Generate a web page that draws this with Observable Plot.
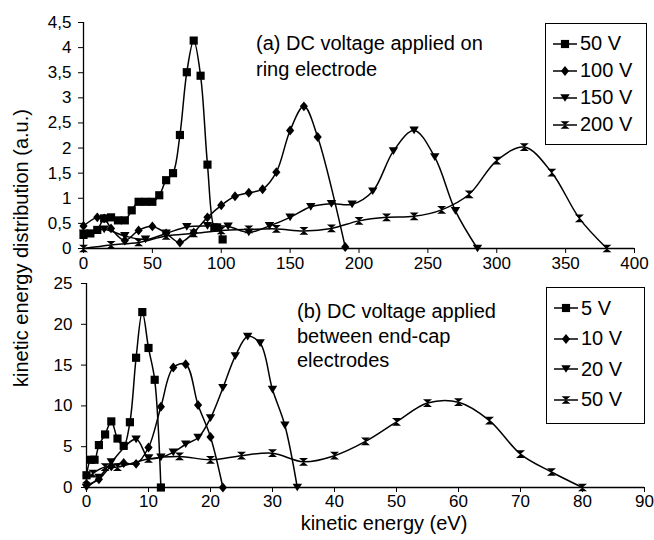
<!DOCTYPE html>
<html><head><meta charset="utf-8">
<script src="https://cdn.jsdelivr.net/npm/d3@7"></script>
<script src="https://cdn.jsdelivr.net/npm/@observablehq/plot@0.6"></script>
<style>
body{margin:0;background:#fff;}
#chart{position:relative;width:654px;height:540px;font-family:"Liberation Sans",Arial,sans-serif;color:#000;overflow:hidden;}
#chart svg.plot{position:absolute;left:0;}
.note{position:absolute;font-size:20px;white-space:nowrap;}
.legend{position:absolute;border:1px solid #000;background:#fff;box-sizing:border-box;font-size:20px;}
.legend .row{display:flex;align-items:center;white-space:nowrap;}
.ylabel{position:absolute;font-size:20px;white-space:nowrap;transform:translate(-50%,-50%) rotate(-90deg);}
.xlabel{position:absolute;font-size:20px;white-space:nowrap;transform:translateX(-50%);}
</style></head><body><div id="chart"></div>
<script>
// ---------- data (a): DC voltage applied on ring electrode ----------
const topNames = ["50 V", "100 V", "150 V", "200 V"];
const top50V = [[0,0.27],[5,0.3],[10,0.37],[15,0.6],[20,0.62],[25,0.56],[30,0.56],[35,0.76],[40,0.93],[45,0.93],[50,0.93],[55,1.06],[60,1.36],[65,1.5],[70,2.26],[75,3.51],[80,4.14],[85,3.44],[90,1.67],[95,0.42],[97,0.42],[101,0.18]];
const top100V = [[0,0.45],[10,0.62],[15,0.6],[20,0.4],[30,0.16],[40,0.36],[50,0.44],[60,0.3],[70,0.12],[80,0.32],[90,0.62],[100,0.86],[110,1.04],[120,1.11],[130,1.18],[140,1.52],[150,2.35],[160,2.83],[170,2.22],[190,0.03]];
const top150V = [[0,0.3],[15,0.38],[30,0.25],[45,0.18],[60,0.3],[75,0.43],[90,0.45],[105,0.44],[120,0.32],[135,0.45],[150,0.62],[165,0.83],[180,0.89],[195,0.88],[210,1.14],[225,1.94],[240,2.35],[255,1.82],[270,0.75],[286,0]];
const top200V = [[0,0],[20,0.07],[40,0.12],[60,0.25],[80,0.3],[100,0.36],[120,0.38],[140,0.39],[160,0.35],[180,0.4],[200,0.55],[220,0.62],[240,0.64],[260,0.77],[280,1.08],[300,1.75],[320,2.02],[340,1.51],[360,0.6],[380,0]];
const topXTicks = [0,50,100,150,200,250,300,350,400];
const topYTicks = [0,0.5,1,1.5,2,2.5,3,3.5,4,4.5];
const topYTickLabels = ["0","0,5","1","1,5","2","2,5","3","3,5","4","4,5"];
const topNote = ["(a) DC voltage applied on", "ring electrode"];

// ---------- data (b): DC voltage applied between end-cap electrodes ----------
const botNames = ["5 V", "10 V", "20 V", "50 V"];
const bot5V = [[0,1.5],[0.7,3.4],[1.3,3.4],[2,5.2],[3,6.5],[4,8.1],[5,6.0],[6,5.1],[7,8.0],[8,15.9],[9,21.5],[10,17.1],[11,13.2],[12,0]];
const bot10V = [[0,0.3],[2,1.0],[4,2.6],[6,3.0],[8,2.9],[10,4.9],[12,9.9],[14,14.7],[16,15.1],[18,10.1],[20,6.2],[22,0]];
const bot20V = [[0,0],[2,1.2],[4,3.1],[8,5.9],[10,3.6],[12,3.7],[14,4.3],[16,5.3],[18,6.1],[20,8.5],[22,12.2],[24,16.1],[26,18.5],[28,17.7],[30,12.0],[32,7.6],[34,0]];
const bot50V = [[0,1.0],[1,1.7],[3,2.5],[5,2.5],[10,3.5],[15,3.8],[20,3.4],[25,3.9],[30,4.2],[35,3.15],[40,3.9],[45,5.65],[50,8.05],[55,10.35],[60,10.45],[65,8.2],[70,4.1],[75,1.9],[80,0]];
const botXTicks = [0,10,20,30,40,50,60,70,80,90];
const botYTicks = [0,5,10,15,20,25];
const botNote = ["(b) DC voltage applied", "between end-cap", "electrodes"];

const yLabel = "kinetic energy distribution (a.u.)";
const xLabel = "kinetic energy (eV)";

// ---------- marker symbols ----------
const rad = s => Math.sqrt(s / Math.PI);
const symSquare = {draw(c, s){const h = rad(s)*0.95; c.rect(-h,-h,2*h,2*h);}};
const symDiamond = {draw(c, s){const r = rad(s), h = r*1.15, w = r*0.95; c.moveTo(0,-h); c.lineTo(w,0); c.lineTo(0,h); c.lineTo(-w,0); c.closePath();}};
const symTriDown = {draw(c, s){const r = rad(s), w = r*1.1, h = r*0.9; c.moveTo(-w,-h); c.lineTo(w,-h); c.lineTo(0,h); c.closePath();}};
const symHourglass = {draw(c, s){const r = rad(s), w = r*1.05, h = r*0.9; c.moveTo(-w,-h); c.lineTo(w,-h); c.lineTo(-w,h); c.lineTo(w,h); c.closePath();}};
const symbols = [symSquare, symDiamond, symTriDown, symHourglass];
const markerR = 4.3;

const font = '"Liberation Sans", Arial, sans-serif';

function seriesMarks(seriesList) {
  return seriesList.flatMap((pts, i) => [
    Plot.line(pts, {x: d => d[0], y: d => d[1], curve: "catmull-rom", stroke: "#000", strokeWidth: 1.5}),
    Plot.dot(pts, {x: d => d[0], y: d => d[1], symbol: symbols[i], r: markerR, fill: "#000", stroke: "none"})
  ]);
}

const chart = document.getElementById("chart");

const topPlot = Plot.plot({
  width: 654, height: 275,
  marginLeft: 83, marginRight: 20, marginTop: 22, marginBottom: 27,
  style: {fontFamily: font, fontSize: "17px", color: "#000", background: "transparent", overflow: "visible"},
  x: {domain: [0, 400], ticks: topXTicks, tickSize: 5, tickPadding: 3, label: null},
  y: {domain: [0, 4.5], ticks: topYTicks, tickSize: 5, tickPadding: 7, label: null,
      tickFormat: d => topYTickLabels[topYTicks.indexOf(d)]},
  marks: [
    Plot.ruleX([0], {stroke: "#000", strokeWidth: 1.3}),
    Plot.ruleY([0], {stroke: "#000", strokeWidth: 1.3}),
    ...seriesMarks([top50V, top100V, top150V, top200V])
  ]
});
topPlot.classList.add("plot");
topPlot.style.top = "0px";
chart.appendChild(topPlot);

const botPlot = Plot.plot({
  width: 654, height: 270,
  marginLeft: 86, marginRight: 10, marginTop: 13, marginBottom: 53,
  style: {fontFamily: font, fontSize: "17px", color: "#000", background: "transparent", overflow: "visible"},
  x: {domain: [0, 90], ticks: botXTicks, tickSize: 5, tickPadding: 2, label: null},
  y: {domain: [0, 25], ticks: botYTicks, tickSize: 5, tickPadding: 9, label: null},
  marks: [
    Plot.ruleX([0], {stroke: "#000", strokeWidth: 1.3}),
    Plot.ruleY([0], {stroke: "#000", strokeWidth: 1.3}),
    ...seriesMarks([bot5V, bot10V, bot20V, bot50V])
  ]
});
botPlot.classList.add("plot");
botPlot.style.top = "270px";
chart.appendChild(botPlot);

// ---------- notes ----------
function addNote(lines, left, top, lh) {
  const d = document.createElement("div");
  d.className = "note";
  d.style.left = left + "px"; d.style.top = top + "px"; d.style.lineHeight = lh + "px";
  d.innerHTML = lines.join("<br>");
  chart.appendChild(d);
}
addNote(topNote, 256, 30, 26);
addNote(botNote, 297, 299, 24.5);

// ---------- legends ----------
function addLegend(names, left, top, w, h, padTop, rowH) {
  const box = document.createElement("div");
  box.className = "legend";
  Object.assign(box.style, {left: left + "px", top: top + "px", width: w + "px", height: h + "px", paddingTop: padTop + "px", paddingLeft: "6px"});
  names.forEach((name, i) => {
    const row = document.createElement("div");
    row.className = "row";
    row.style.height = rowH + "px";
    const svg = d3.create("svg").attr("width", 26).attr("height", 16).style("margin-right", "2px");
    svg.append("line").attr("x1", 1).attr("x2", 25).attr("y1", 8).attr("y2", 8).attr("stroke", "#000").attr("stroke-width", 1.5);
    svg.append("path").attr("transform", "translate(13,8)").attr("fill", "#000")
      .attr("d", d3.symbol().type(symbols[i]).size(markerR * markerR * Math.PI)());
    row.appendChild(svg.node());
    const t = document.createElement("span");
    t.textContent = name;
    row.appendChild(t);
    box.appendChild(row);
  });
  chart.appendChild(box);
}
addLegend(topNames, 545, 23, 102, 122, 6, 27);
addLegend(botNames, 546, 287, 99, 137, 5, 30.5);

// ---------- axis titles ----------
const yl = document.createElement("div");
yl.className = "ylabel"; yl.textContent = yLabel;
yl.style.left = "21px"; yl.style.top = "248px";
chart.appendChild(yl);
const xl = document.createElement("div");
xl.className = "xlabel"; xl.textContent = xLabel;
xl.style.left = "384px"; xl.style.top = "512px";
chart.appendChild(xl);
</script>
</body></html>
